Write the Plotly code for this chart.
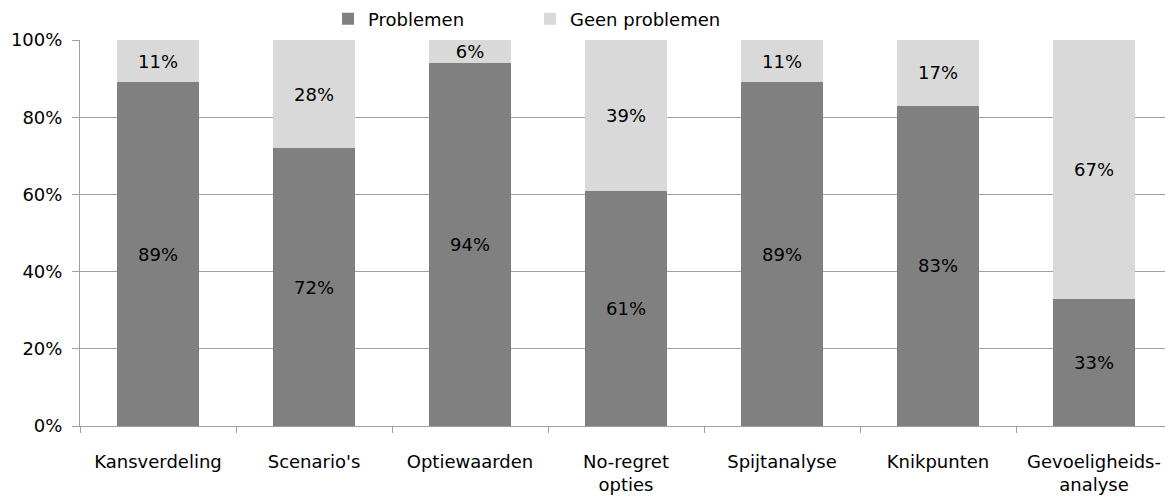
import plotly.graph_objects as go

categories = ["Kansverdeling", "Scenario's", "Optiewaarden", "No-regret<br>opties",
              "Spijtanalyse", "Knikpunten", "Gevoeligheids-<br>analyse"]
problemen = [89, 72, 94, 61, 89, 83, 33]
geen_problemen = [11, 28, 6, 39, 11, 17, 67]

font_family = "DejaVu Sans, sans-serif"

fig = go.Figure()
fig.add_trace(go.Bar(
    x=categories, y=problemen, name="Problemen",
    marker=dict(color="#808080", line=dict(width=0)),
    text=[f"{v}%" for v in problemen], textposition="inside",
    insidetextanchor="middle", textangle=0,
    textfont=dict(color="#000000", size=18, family=font_family),
))
fig.add_trace(go.Bar(
    x=categories, y=geen_problemen, name="Geen problemen",
    marker=dict(color="#d9d9d9", line=dict(width=0)),
    text=[f"{v}%" for v in geen_problemen], textposition="inside",
    insidetextanchor="middle", textangle=0,
    textfont=dict(color="#000000", size=18, family=font_family),
))

# the page body adds an 8px offset, so the figure is sized to compensate
fig.update_layout(
    width=1165, height=495,
    barmode="stack", bargap=0.48,
    plot_bgcolor="white", paper_bgcolor="white",
    font=dict(family=font_family, size=18, color="#000000"),
    margin=dict(l=72, r=1, t=32, b=77, autoexpand=False),
    legend=dict(orientation="h", xref="container", yref="paper",
                x=0.2747, xanchor="left", y=1.054, yanchor="middle",
                bgcolor="rgba(0,0,0,0)",
                font=dict(size=18), traceorder="normal",
                itemwidth=30, entrywidth=157, entrywidthmode="pixels"),
    uniformtext=dict(minsize=18, mode="show"),
)
fig.update_xaxes(
    showline=True, linecolor="#a0a0a0", linewidth=1,
    ticks="outside", tickson="boundaries", ticklen=6, tickcolor="#a0a0a0",
    ticklabelstandoff=19, tickfont=dict(size=18), automargin=False,
)
fig.update_yaxes(
    range=[0, 100], tickvals=[0, 20, 40, 60, 80, 100],
    ticktext=["0%", "20%", "40%", "60%", "80%", "100%"],
    showgrid=True, gridcolor="#a0a0a0", gridwidth=1,
    showline=True, linecolor="#a0a0a0", linewidth=1,
    ticks="outside", ticklen=7, tickcolor="#a0a0a0", ticklabelstandoff=6,
    tickfont=dict(size=18), zeroline=False, automargin=False,
)

fig.write_html("out.html")
